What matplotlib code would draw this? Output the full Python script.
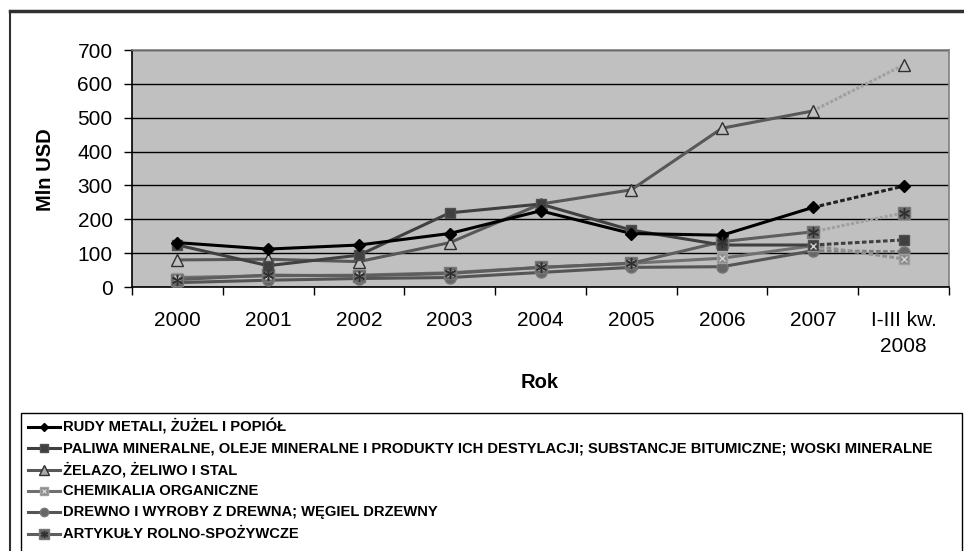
import matplotlib
matplotlib.use("Agg")
import matplotlib.pyplot as plt
from matplotlib.patches import Rectangle
from matplotlib.lines import Line2D

plt.rcParams['font.family'] = ['Liberation Sans', 'DejaVu Sans']

categories = ["2000", "2001", "2002", "2003", "2004", "2005", "2006", "2007", "I-III kw.\n2008"]
series_names = [
    "RUDY METALI, ŻUŻEL I POPIÓŁ",
    "PALIWA MINERALNE, OLEJE MINERALNE I PRODUKTY ICH DESTYLACJI; SUBSTANCJE BITUMICZNE; WOSKI MINERALNE",
    "ŻELAZO, ŻELIWO I STAL",
    "CHEMIKALIA ORGANICZNE",
    "DREWNO I WYROBY Z DREWNA; WĘGIEL DRZEWNY",
    "ARTYKUŁY ROLNO-SPOŻYWCZE",
]
rudy = [131, 112, 124, 158, 225, 158, 153, 235, 298]
paliwa = [124, 63, 94, 219, 245, 168, 124, 124, 139]
zelazo = [80, 82, 75, 131, 245, 287, 469, 520, 656]
chemikalia = [28, 33, 35, 42, 58, 70, 85, 122, 83]
drewno = [13, 20, 25, 28, 43, 58, 60, 107, 104]
artykuly = [22, 35, 33, 40, 58, 70, 134, 163, 219]
yticks = [0, 100, 200, 300, 400, 500, 600, 700]

W, H = 964, 551
fig = plt.figure(figsize=(W / 100, H / 100), dpi=100)
fig.patch.set_facecolor("white")

# outer frame (left and top visible)
fig.add_artist(Line2D([10 / W, 10 / W], [0, 1 - 11 / H], transform=fig.transFigure, color="#303030", lw=1.5))
fig.add_artist(Line2D([10 / W, 1.0], [1 - 11 / H, 1 - 11 / H], transform=fig.transFigure, color="#303030", lw=2.5))

ax = fig.add_axes([132 / W, 1 - 287 / H, (949 - 132) / W, (287 - 50) / H])
ax.set_facecolor("#C0C0C0")
x = list(range(len(categories)))

styles = [
    dict(color="black", marker="D", ms=6, mfc="black", mec="black", last_color="#202020", last_ls=(0, (1.5, 0.8))),
    dict(color="#404040", marker="s", ms=7, mfc="#404040", mec="#505050", last_color="#404040", last_ls=(0, (1.5, 0.8))),
    dict(color="#585858", marker="^", ms=9, mfc="#C0C0C0", mec="#303030", last_color="#A0A0A0", last_ls=(0, (1, 0.6))),
    dict(color="#707070", marker="s", ms=7, mfc="#8A8A8A", mec="#A0A0A0", last_color="#909090", last_ls=(0, (1.5, 0.8))),
    dict(color="#555555", marker="o", ms=8, mfc="#666666", mec="#777777", last_color="#808080", last_ls=(0, (1.5, 0.8))),
    dict(color="#5E5E5E", marker="s", ms=9, mfc="#666666", mec="#777777", last_color="#A0A0A0", last_ls=(0, (1, 0.6))),
]
overlay = [None, None, None, "x", None, "*"]
data = [rudy, paliwa, zelazo, chemikalia, drewno, artykuly]

# draw from bottom-most to top
order = [4, 3, 5, 2, 1, 0]
for i in order:
    s = styles[i]
    y = data[i]
    ax.plot(x[7:], y[7:], color=s["last_color"], lw=2.2, ls=s["last_ls"], zorder=3)
    ax.plot(x[:8], y[:8], color=s["color"], lw=2.2, zorder=3)
    ax.plot(x, y, ls="none", marker=s["marker"], ms=s["ms"], mfc=s["mfc"], mec=s["mec"], mew=1.0, zorder=4)
    if overlay[i] == "x":
        ax.plot(x, y, ls="none", marker="x", ms=5, mec="#D0D0D0", mew=1.0, zorder=5)
    elif overlay[i] == "*":
        ax.plot(x, y, ls="none", marker=(6, 2, 0), ms=8, mec="#303030", mew=1.0, zorder=5)

ax.set_xlim(-0.5, len(categories) - 0.5)
ax.set_ylim(0, 700)
ax.set_yticks(yticks)
ax.set_yticklabels([str(v) for v in yticks], fontsize=15)
ax.yaxis.grid(True, color="black", lw=1)
ax.set_axisbelow(True)
ax.tick_params(axis="y", length=6, width=1, pad=8, color="black")

ax.set_xticks(x)
ax.set_xticklabels(categories, fontsize=15, linespacing=1.5, va="top")
ax.tick_params(axis="x", which="major", length=0, pad=17)
ax.set_xticks([v - 0.5 for v in range(len(categories) + 1)], minor=True)
ax.tick_params(axis="x", which="minor", length=6, width=1, color="black")

for sp in ["left", "bottom"]:
    ax.spines[sp].set_color("black")
    ax.spines[sp].set_linewidth(1.2)
for sp in ["top", "right"]:
    ax.spines[sp].set_color("#808080")
    ax.spines[sp].set_linewidth(1.2)

fig.text(45.5 / W, 1 - 170 / H, "Mln USD", rotation=90, ha="center", va="center", fontsize=14.5, fontweight="bold")
fig.text(540 / W, 1 - 383 / H, "Rok", ha="center", va="center", fontsize=14.5, fontweight="bold")

# legend box
fig.add_artist(Rectangle((21 / W, -0.05), (962 - 21) / W, 1 - 413 / H + 0.05, transform=fig.transFigure,
                         facecolor="white", edgecolor="black", lw=1.0))
leg_y0 = 427
leg_dy = 21.3
for i, name in enumerate(series_names):
    s = styles[i]
    yy = 1 - (leg_y0 + i * leg_dy) / H
    fig.add_artist(Line2D([28 / W, 60 / W], [yy, yy], transform=fig.transFigure, color=s["color"], lw=2.2))
    mfc = "#A8A8A8" if i == 2 else s["mfc"]
    fig.add_artist(Line2D([44 / W], [yy], transform=fig.transFigure, marker=s["marker"], ms=s["ms"] * 0.75,
                          mfc=mfc, mec=s["mec"], ls="none"))
    if overlay[i] == "x":
        fig.add_artist(Line2D([44 / W], [yy], transform=fig.transFigure, marker="x", ms=3.5, mec="#D0D0D0", ls="none"))
    elif overlay[i] == "*":
        fig.add_artist(Line2D([44 / W], [yy], transform=fig.transFigure, marker=(6, 2, 0), ms=5, mec="#303030", ls="none"))
    fig.text(63 / W, yy, name, ha="left", va="center", fontsize=10.6, fontweight="bold")

fig.savefig("out.png", dpi=100)
